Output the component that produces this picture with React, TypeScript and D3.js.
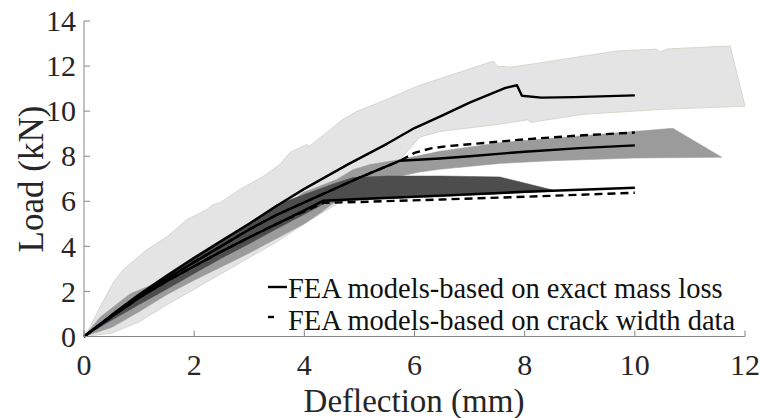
import * as d3 from 'd3'

// load-deflection envelopes (x: deflection mm, y: load kN)
const lightUpper = [[0,0],[0.11,0.42],[0.29,1.31],[0.53,2.38],[0.71,2.96],[1.14,3.85],[1.51,4.43],[1.87,5.19],[2.23,5.63],[2.34,5.85],[2.47,5.94],[2.83,6.52],[3.25,7.1],[3.56,7.64],[3.74,8.17],[4.05,8.53],[4.07,8.4],[4.41,9.06],[4.7,9.64],[4.96,10.0],[5.37,10.39],[6.05,11.11],[7.43,12.22],[7.5,12.0],[7.73,11.95],[8.15,12.09],[9.06,12.44],[9.68,12.67],[10.4,12.75],[10.45,12.62],[10.6,12.76],[11.73,12.89],[12.0,10.22]]
const lightLower = [[0,0],[0.5,0.15],[1,0.65],[1.5,1.4],[2,2.1],[2.5,2.8],[3,3.5],[3.5,4.2],[4,5.0],[4.5,5.75],[5,6.5],[5.74,7.85],[6.1,8.85],[6.46,9.1],[7.55,9.42],[8.06,9.62],[8.1,9.5],[9.06,9.86],[10.58,10.09],[12,10.22]]
const midUpper = [[0,0],[0.29,0.85],[0.53,1.31],[0.84,1.9],[1.14,2.2],[1.5,2.6],[2,3.3],[2.5,4.0],[3,4.75],[3.5,5.5],[3.98,6.39],[4.59,6.97],[4.88,7.4],[5.19,7.63],[5.74,7.85],[6.46,8.22],[7.55,8.6],[9,8.9],[10.69,9.24],[11.58,7.95]]
const midLower = [[0,0],[0.5,0.4],[1,1.1],[1.5,1.85],[2,2.5],[2.5,3.1],[3,3.7],[3.5,4.35],[4,5.0],[4.3,5.5],[4.6,6.05],[5,6.5],[5.5,7.0],[6.1,7.3],[6.46,7.42],[7.55,7.68],[8.5,7.8],[10,7.92],[11.58,7.95]]
const darkUpper = [[0,0],[0.5,1.0],[1,1.92],[1.5,2.75],[2,3.55],[2.5,4.3],[3,5.05],[3.5,5.85],[4,6.3],[4.5,6.75],[4.88,7.05],[5.5,7.12],[6.5,7.12],[7.55,7.08],[8.51,6.5]]
const darkLower = [[0,0],[0.5,0.72],[1,1.42],[1.5,2.1],[2,2.8],[2.5,3.48],[3,4.12],[3.5,4.78],[4,5.42],[4.4,5.95],[5,6.06],[6.46,6.2],[7,6.27],[8,6.38],[8.51,6.45]]

// FEA curves
const massLossHigh = [[0,0],[0.5,0.95],[1,1.85],[1.5,2.68],[2,3.48],[2.5,4.25],[3,5.0],[3.5,5.8],[4,6.55],[4.8,7.65],[5.5,8.55],[6,9.25],[6.5,9.8],[7,10.38],[7.64,11.02],[7.73,11.08],[7.86,11.15],[7.95,10.68],[8.3,10.6],[8.9,10.62],[10,10.7]]
const crackMid = [[0,0],[0.5,0.9],[1,1.78],[1.5,2.55],[2,3.3],[2.5,4.02],[3,4.75],[3.5,5.4],[4,5.95],[4.5,6.5],[5,7.05],[5.74,7.8],[6,8.15],[6.3,8.35],[6.6,8.45],[7,8.53],[8,8.75],[9,8.92],[10,9.05]]
const massLossMid = [[0,0],[0.5,0.9],[1,1.78],[1.5,2.55],[2,3.3],[2.5,4.02],[3,4.75],[3.5,5.4],[4,5.95],[4.5,6.5],[5,7.05],[5.74,7.8],[6.46,7.9],[7,8.0],[8,8.2],[9,8.36],[10,8.48]]
const massLossLow = [[0,0],[0.5,0.88],[1,1.72],[1.5,2.45],[2,3.12],[2.5,3.78],[3,4.4],[3.5,5.0],[4,5.6],[4.35,6.03],[5,6.1],[6.46,6.25],[8,6.42],[10,6.6]]
const crackLow = [[0,0],[0.5,0.88],[1,1.72],[1.5,2.45],[2,3.12],[2.5,3.78],[3,4.4],[3.5,5.0],[4,5.55],[4.35,5.93],[5,5.97],[6.5,6.08],[8,6.2],[10,6.38]]

const xTicks = [0, 2, 4, 6, 8, 10, 12]
const yTicks = [0, 2, 4, 6, 8, 10, 12, 14]
const legendLabels = ['FEA models-based on exact mass loss', 'FEA models-based on crack width data']

const font = '"Liberation Serif", "Times New Roman", serif'

export default function App() {
  const width = 762
  const height = 418
  const x = d3.scaleLinear().domain([0, 12]).range([84, 745])
  const y = d3.scaleLinear().domain([0, 14]).range([336.5, 21])
  const line = d3.line<number[]>().x(d => x(d[0])).y(d => y(d[1]))
  const band = (up: number[][], low: number[][]) => line([...up, ...low.slice().reverse()]) + 'Z'

  const axisColor = '#858585'
  const textColor = '#262626'

  return (
    <svg width={width} height={height} style={{ position: 'absolute', left: 0, top: 0, background: '#fff' }}>
      <path d={band(lightUpper, lightLower)} fill="#e4e4e4" stroke="#d9d6cc" strokeWidth={1} />
      <path d={band(midUpper, midLower)} fill="#9b9b9b" stroke="#9b9b9b" strokeWidth={0.5} />
      <path d={band(darkUpper, darkLower)} fill="#4d4d4d" stroke="#4d4d4d" strokeWidth={0.5} />

      {[massLossHigh, massLossMid, massLossLow].map((d, i) => (
        <path key={'s' + i} d={line(d) || ''} fill="none" stroke="#000" strokeWidth={2.4} strokeLinejoin="round" />
      ))}
      {[crackMid, crackLow].map((d, i) => (
        <path key={'d' + i} d={line(d) || ''} fill="none" stroke="#000" strokeWidth={2.4} strokeDasharray="8,5" />
      ))}

      {/* axes */}
      <line x1={x(0)} x2={x(12)} y1={y(0)} y2={y(0)} stroke={axisColor} strokeWidth={1} />
      <line x1={x(0)} x2={x(0)} y1={y(0)} y2={y(14)} stroke={axisColor} strokeWidth={1} />
      {xTicks.map(t => (
        <g key={'x' + t}>
          <line x1={x(t)} x2={x(t)} y1={y(0)} y2={y(0) - 6} stroke={axisColor} strokeWidth={1} />
          <text x={x(t)} y={375} textAnchor="middle" fontFamily={font} fontSize={30} fill={textColor}>{t}</text>
        </g>
      ))}
      {yTicks.map(t => (
        <g key={'y' + t}>
          <line x1={x(0)} x2={x(0) + 6} y1={y(t)} y2={y(t)} stroke={axisColor} strokeWidth={1} />
          <text x={76} y={y(t)} dy="0.34em" textAnchor="end" fontFamily={font} fontSize={30} fill={textColor}>{t}</text>
        </g>
      ))}
      <text x={414} y={412} textAnchor="middle" fontFamily={font} fontSize={33} fill={textColor}>Deflection (mm)</text>
      <text transform="translate(43,179) rotate(-90)" textAnchor="middle" fontFamily={font} fontSize={35} fill={textColor}>Load (kN)</text>

      {/* legend */}
      <line x1={268} x2={287} y1={287} y2={287} stroke="#000" strokeWidth={2.4} />
      <line x1={268} x2={287} y1={317} y2={317} stroke="#000" strokeWidth={2.4} strokeDasharray="6,14" />
      {legendLabels.map((l, i) => (
        <text key={l} x={288} y={298 + i * 32} fontFamily={font} fontSize={28.5} fill="#111">{l}</text>
      ))}
    </svg>
  )
}
